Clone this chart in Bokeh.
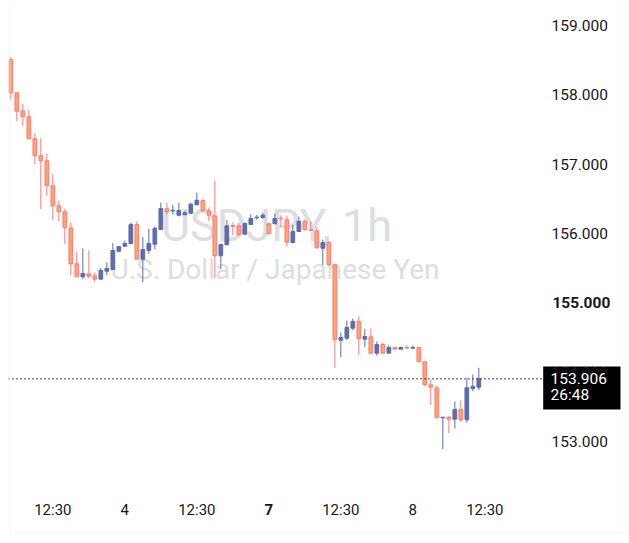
from bokeh.plotting import figure
from bokeh.models import (ColumnDataSource, Range1d, LinearAxis, FixedTicker,
                          Label, BoxAnnotation, PrintfTickFormatter)
from bokeh.embed import file_html
from bokeh.resources import INLINE
from bokeh.core.properties import value

# ---- data ----
opens = [158.510, 158.029, 157.770, 157.683, 157.366, 157.121, 157.049, 156.688, 156.400, 156.313,
         156.082, 155.563, 155.375, 155.419, 155.390, 155.341, 155.456, 155.481, 155.745, 155.817,
         155.856, 156.130, 155.629, 155.755, 155.846, 156.058, 156.356, 156.325, 156.264, 156.270,
         156.293, 156.414, 156.476, 156.327, 156.255, 155.678, 155.837, 156.115, 156.111, 155.990,
         156.130, 156.226, 156.231, 156.140, 156.140, 156.221, 156.198, 155.870, 156.029, 156.177,
         156.053, 156.039, 155.788, 155.870, 155.549, 154.461, 154.490, 154.634, 154.731, 154.476,
         154.510, 154.274, 154.399, 154.274, 154.356, 154.331, 154.356, 154.346, 154.356, 154.150,
         153.818, 153.775, 153.342, 153.351, 153.322, 153.462, 153.313, 153.764, 153.783]
highs = [158.543, 158.029, 157.875, 157.784, 157.442, 157.375, 157.154, 156.861, 156.476, 156.361,
         156.159, 155.740, 155.784, 155.755, 155.438, 155.505, 155.582, 155.860, 155.813, 155.899,
         156.154, 156.177, 155.952, 156.068, 156.101, 156.447, 156.443, 156.414, 156.443, 156.322,
         156.443, 156.591, 156.495, 156.375, 156.764, 155.841, 156.198, 156.163, 156.154, 156.159,
         156.278, 156.270, 156.299, 156.149, 156.288, 156.264, 156.260, 156.126, 156.245, 156.206,
         156.169, 156.087, 155.913, 155.889, 155.563, 154.572, 154.745, 154.774, 154.807, 154.626,
         154.630, 154.442, 154.428, 154.389, 154.356, 154.370, 154.389, 154.385, 154.366, 154.150,
         153.894, 153.798, 153.351, 153.365, 153.577, 153.591, 153.919, 153.966, 154.063]
lows = [157.928, 157.620, 157.548, 157.366, 157.000, 156.350, 156.544, 156.192, 156.177, 155.851,
        155.399, 155.375, 155.341, 155.355, 155.303, 155.341, 155.399, 155.481, 155.726, 155.817,
        155.856, 155.629, 155.298, 155.707, 155.774, 156.058, 156.274, 156.274, 156.245, 156.270,
        156.278, 156.408, 156.313, 156.177, 155.355, 155.485, 155.837, 155.976, 155.967, 155.990,
        156.130, 156.202, 156.212, 155.996, 156.140, 156.101, 155.813, 155.856, 156.029, 156.043,
        156.039, 155.779, 155.543, 155.534, 154.063, 154.216, 154.461, 154.605, 154.251, 154.360,
        154.274, 154.236, 154.274, 154.274, 154.331, 154.331, 154.346, 154.331, 154.150, 153.793,
        153.524, 153.342, 152.889, 153.120, 153.188, 153.284, 153.270, 153.726, 153.740]
closes = [158.029, 157.764, 157.683, 157.366, 157.121, 157.049, 156.688, 156.400, 156.313, 156.082,
          155.563, 155.375, 155.423, 155.384, 155.341, 155.466, 155.495, 155.755, 155.813, 155.856,
          156.130, 155.629, 155.769, 155.856, 156.072, 156.361, 156.313, 156.335, 156.332, 156.299,
          156.423, 156.480, 156.327, 156.264, 155.678, 155.841, 156.111, 156.101, 155.986, 156.144,
          156.216, 156.235, 156.264, 155.996, 156.216, 156.212, 155.875, 156.029, 156.177, 156.053,
          156.043, 155.794, 155.870, 155.549, 154.467, 154.500, 154.644, 154.731, 154.481, 154.514,
          154.274, 154.399, 154.274, 154.356, 154.331, 154.356, 154.346, 154.356, 154.150, 153.818,
          153.783, 153.342, 153.351, 153.322, 153.462, 153.313, 153.775, 153.793, 153.906]

time_tick_index = [7, 19, 31, 43, 55, 67, 79]
time_tick_labels = ["12:30", "4", "12:30", "7", "12:30", "8", "12:30"]
bold_time_labels = ["7"]
price_ticks = [153, 154, 155, 156, 157, 158, 159]
bold_price_ticks = [155]
last_price = 153.906
countdown = "26:48"
symbol_text = "USDJPY, 1h"
description_text = "U.S. Dollar / Japanese Yen"

# ---- styling ----
UP = "#5d6dab"
DOWN_FILL = "#ffa55f"
DOWN_LINE = "#f77c80"
TXT = "#131722"
FONT = "Roboto"

n = len(opens)
xs = list(range(n))
up = [c >= o for o, c in zip(opens, closes)]
src = ColumnDataSource(dict(
    x=xs, high=highs, low=lows,
    top=[max(o, c) for o, c in zip(opens, closes)],
    bottom=[min(o, c) for o, c in zip(opens, closes)],
    fill=[UP if u else DOWN_FILL for u in up],
    line=[UP if u else DOWN_LINE for u in up],
))

X0, X1 = -0.3883, 102.112
Y0, Y1 = 151.6587, 159.3606
p = figure(width=625, height=540, output_backend="svg", toolbar_location=None,
           x_range=Range1d(X0, X1), y_range=Range1d(Y0, Y1),
           x_axis_location=None, y_axis_location=None,
           min_border_left=8, min_border_right=2, min_border_top=0, min_border_bottom=6)
p.outline_line_color = None
p.background_fill_color = "white"
p.border_fill_color = "white"
for g in p.grid:
    g.visible = False

# watermark
p.text(x=[44.28], y=[156.115], text=[symbol_text], text_font=value(FONT),
       text_font_size=value("45px"), text_color="#dcdee3", text_align="center",
       text_baseline="middle")
p.text(x=[44.03], y=[155.481], text=[description_text], text_font=value(FONT),
       text_font_size=value("28px"), text_color="#dcdee3", text_align="center",
       text_baseline="middle")

# candles
p.segment(x0="x", y0="low", x1="x", y1="high", source=src, line_color="line", line_width=1)
p.vbar(x="x", top="top", bottom="bottom", width=0.62, source=src,
       fill_color="fill", line_color="line", line_width=1)

# last price dotted line and price box
BOX_L, BOX_R = 88.73, 101.61
p.segment(x0=[X0], y0=[last_price], x1=[BOX_L], y1=[last_price], line_color=TXT,
          line_dash="1 3", line_width=1.5)
p.quad(left=[BOX_L], right=[BOX_R], top=[154.082], bottom=[153.4615],
       fill_color="black", line_color=None)

# axes (labels pulled inside the bordered area)
yaxis = LinearAxis(ticker=FixedTicker(ticks=price_ticks),
                   formatter=PrintfTickFormatter(format="%.3f"))
yaxis.axis_line_color = None
yaxis.major_tick_line_color = None
yaxis.minor_tick_line_color = None
yaxis.major_tick_out = 0
yaxis.major_tick_in = 0
yaxis.major_label_standoff = -72
yaxis.major_label_text_font = FONT
yaxis.major_label_text_font_size = "15.5px"
yaxis.major_label_text_color = TXT
yaxis.major_label_overrides = {t: "" for t in bold_price_ticks}
p.add_layout(yaxis, "right")

xaxis = LinearAxis(ticker=FixedTicker(ticks=time_tick_index))
xaxis.axis_line_color = None
xaxis.major_tick_line_color = None
xaxis.minor_tick_line_color = None
xaxis.major_tick_out = 0
xaxis.major_tick_in = 0
xaxis.major_label_standoff = -34
xaxis.major_label_text_font = FONT
xaxis.major_label_text_font_size = "15px"
xaxis.major_label_text_color = TXT
xaxis.major_label_overrides = {t: ("" if l in bold_time_labels else l)
                               for t, l in zip(time_tick_index, time_tick_labels)}
p.add_layout(xaxis, "below")

# bold labels
for t, l in zip(time_tick_index, time_tick_labels):
    if l in bold_time_labels:
        p.add_layout(Label(x=t, y=152.02, text=l, text_font=FONT, text_font_size="15px",
                           text_font_style="bold", text_color=TXT, text_align="center",
                           text_baseline="middle"))
for t in bold_price_ticks:
    p.add_layout(Label(x=90.27, y=t, text="%.3f" % t, text_font=FONT, text_font_size="15.5px",
                       text_font_style="bold", text_color=TXT, text_align="left",
                       text_baseline="middle"))

# outer frame border
p.add_layout(BoxAnnotation(left=-0.2217, right=101.945, bottom=151.6875, top=160.5,
                           fill_alpha=0, line_color="#ededed", line_width=2))

# last price text
p.add_layout(Label(x=89.945, y=last_price, text="%.3f" % last_price, text_font=FONT,
                   text_font_size="15.5px", text_color="white", text_align="left",
                   text_baseline="middle"))
p.add_layout(Label(x=89.945, y=153.665, text=countdown, text_font=FONT,
                   text_font_size="15.5px", text_color="white", text_align="left",
                   text_baseline="middle"))

open("out.html", "w").write(file_html(p, INLINE))
